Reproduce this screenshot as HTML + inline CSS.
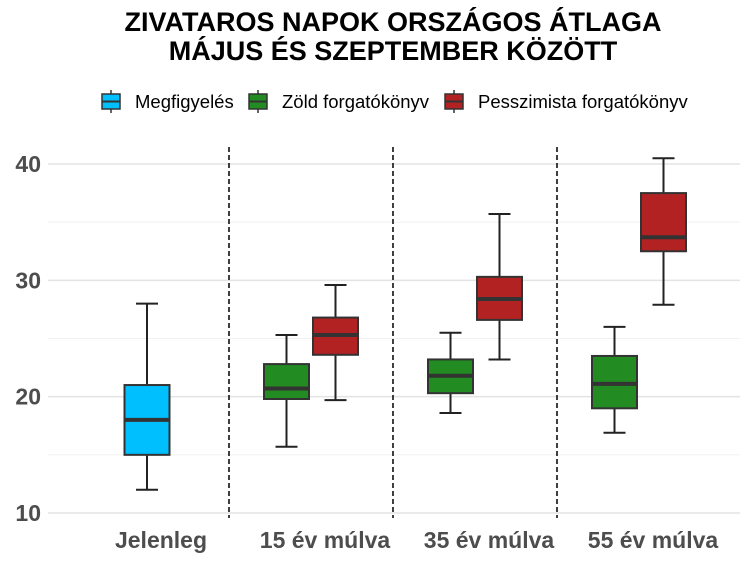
<!DOCTYPE html>
<html><head><meta charset="utf-8"><style>
body{margin:0;background:#fff;font-family:"Liberation Sans",sans-serif}
svg text{font-family:"Liberation Sans",sans-serif}
</style></head><body>
<svg width="750" height="562">
<text x="393" y="31" text-anchor="middle" font-size="27" font-weight="bold">ZIVATAROS NAPOK ORSZÁGOS ÁTLAGA</text>
<text x="393" y="60" text-anchor="middle" font-size="27" font-weight="bold">MÁJUS ÉS SZEPTEMBER KÖZÖTT</text>
<g id="legend"></g>
<g id="grid"></g>
<g id="marks"></g>
</svg>
<script>
const categories=["Jelenleg","15 év múlva","35 év múlva","55 év múlva"];
const seriesNames=["Megfigyelés","Zöld forgatókönyv","Pesszimista forgatókönyv"];
const seriesColors=["#00bfff","#228b22","#b22222"];
const yTicks=[10,20,30,40];
const boxMin=[12,15.7,19.7,18.6,23.2,16.9,27.9];
const boxQ1=[15,19.8,23.6,20.3,26.6,19.0,32.5];
const boxMed=[18,20.7,25.3,21.8,28.4,21.1,33.7];
const boxQ3=[21,22.8,26.8,23.2,30.3,23.5,37.5];
const boxMax=[28,25.3,29.6,25.5,35.7,26.0,40.5];
const boxCat=[0,1,1,2,2,3,3];
const boxSeries=[0,1,2,1,2,1,2];
const NS="http://www.w3.org/2000/svg";
function y(v){return 513-(v-10)*11.633;}
function xc(i){return 147+164*i;}
function mk(t,a,p){const e=document.createElementNS(NS,t);for(const k in a)e.setAttribute(k,a[k]);p.appendChild(e);return e;}
const grid=document.getElementById('grid'),marks=document.getElementById('marks'),leg=document.getElementById('legend');
for(let v=10;v<=40;v+=5){const l=mk('line',{x1:48,x2:740,y1:y(v),y2:y(v),stroke:v%10?'#f1f1f1':'#e3e3e3','stroke-width':v%10?1:1.5},grid);

}
yTicks.forEach(v=>{const t=mk('text',{x:41,y:y(v)+8,'text-anchor':'end','font-size':23,'font-weight':'bold',fill:'#4d4d4d'},grid);t.textContent=v;

});
categories.forEach((c,i)=>{const t=mk('text',{x:xc(i)+14,y:548,'text-anchor':'middle','font-size':23,'font-weight':'bold',fill:'#4d4d4d'},grid);t.textContent=c;


if(i>0){const d=mk('line',{x1:xc(i)-82,x2:xc(i)-82,y1:147,y2:518,stroke:'#111','stroke-width':1.6,'stroke-dasharray':'5,3'},grid);

}});
boxCat.forEach((c,k)=>{const s=boxSeries[k];const cx=xc(c)+(s===0?0:(s===1?-24.5:24.5));const w=45;
const g=mk('g',{},marks);


mk('line',{x1:cx,x2:cx,y1:y(boxMax[k]),y2:y(boxMin[k]),stroke:'#222','stroke-width':2},g);
mk('line',{x1:cx-11,x2:cx+11,y1:y(boxMax[k]),y2:y(boxMax[k]),stroke:'#222','stroke-width':2},g);
mk('line',{x1:cx-11,x2:cx+11,y1:y(boxMin[k]),y2:y(boxMin[k]),stroke:'#222','stroke-width':2},g);
mk('rect',{x:cx-w/2,y:y(boxQ3[k]),width:w,height:y(boxQ1[k])-y(boxQ3[k]),fill:seriesColors[s],stroke:'#333','stroke-width':2},g);
mk('line',{x1:cx-w/2,x2:cx+w/2,y1:y(boxMed[k]),y2:y(boxMed[k]),stroke:'#333','stroke-width':4},g);});
const lx=[101,248,444];
seriesNames.forEach((n,i)=>{const g=mk('g',{},leg);


mk('line',{x1:lx[i]+10,x2:lx[i]+10,y1:90,y2:113,stroke:'#333','stroke-width':1.5},g);
mk('rect',{x:lx[i]+1,y:94,width:18,height:15,fill:seriesColors[i],stroke:'#333','stroke-width':1.5},g);
mk('line',{x1:lx[i]+1,x2:lx[i]+19,y1:101.5,y2:101.5,stroke:'#333','stroke-width':2},g);
const t=mk('text',{x:lx[i]+34,y:108,'font-size':18.5},g);t.textContent=n;});
</script>
</body></html>
